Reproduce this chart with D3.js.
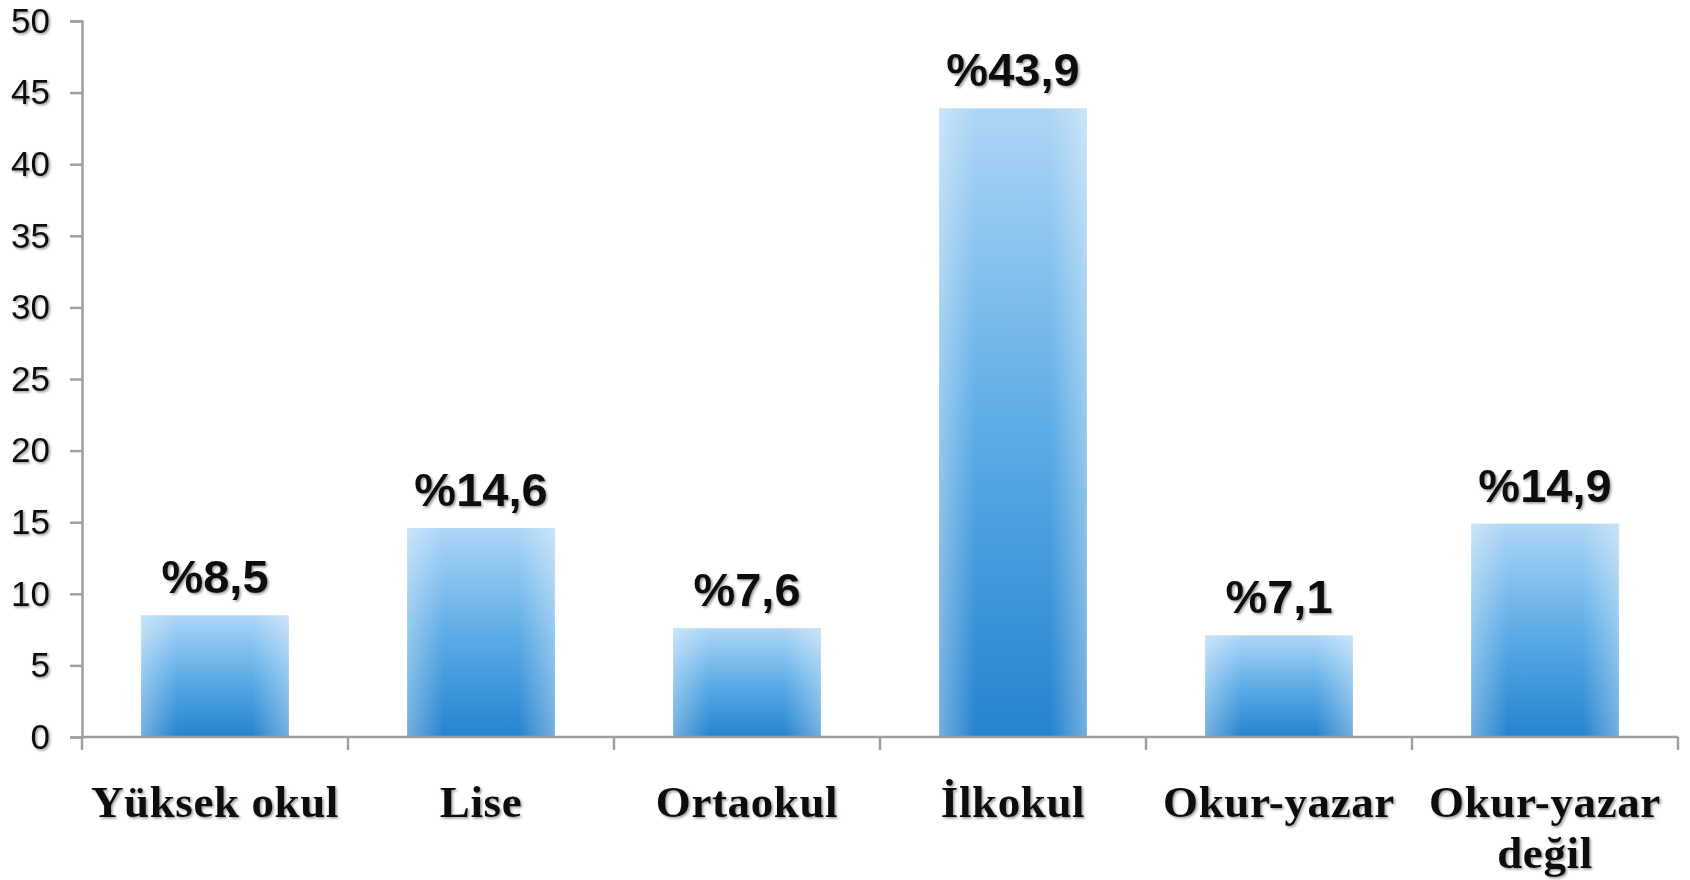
<!DOCTYPE html>
<html><head><meta charset="utf-8">
<script src="https://cdn.jsdelivr.net/npm/d3@7"></script>
<style>
html,body{margin:0;padding:0;background:#fff;}
svg{display:block;}
</style></head>
<body>
<svg id="chart" width="1690" height="880"></svg>
<script>
const categories = ["Yüksek okul", "Lise", "Ortaokul", "İlkokul", "Okur-yazar", "Okur-yazar değil"];
const categoryLines = [["Yüksek okul"], ["Lise"], ["Ortaokul"], ["İlkokul"], ["Okur-yazar"], ["Okur-yazar", "değil"]];
const values = [8.5, 14.6, 7.6, 43.9, 7.1, 14.9];
const valueLabels = ["%8,5", "%14,6", "%7,6", "%43,9", "%7,1", "%14,9"];
const yTicks = [0, 5, 10, 15, 20, 25, 30, 35, 40, 45, 50];

const svg = d3.select("#chart");
const mLeft = 82, mRight = 1678, mTop = 21, mBottom = 737;

const y = d3.scaleLinear().domain([0, 50]).range([mBottom, mTop]);
const x = d3.scaleBand().domain(categories).range([mLeft, mRight]).paddingInner(0.445).paddingOuter(0.2225);
const xb = d3.scaleBand().domain(categories).range([mLeft, mRight]).padding(0);

const defs = svg.append("defs");
const lg = defs.append("linearGradient").attr("id", "vgrad").attr("x1", 0).attr("y1", 0).attr("x2", 0).attr("y2", 1);
lg.append("stop").attr("offset", "0%").attr("stop-color", "#aed6f6");
lg.append("stop").attr("offset", "50%").attr("stop-color", "#5eade6");
lg.append("stop").attr("offset", "100%").attr("stop-color", "#2583cf");
const hg = defs.append("linearGradient").attr("id", "hgrad").attr("x1", 0).attr("y1", 0).attr("x2", 1).attr("y2", 0);
hg.append("stop").attr("offset", "0%").attr("stop-color", "#fff").attr("stop-opacity", 0.35);
hg.append("stop").attr("offset", "25%").attr("stop-color", "#fff").attr("stop-opacity", 0.0);
hg.append("stop").attr("offset", "75%").attr("stop-color", "#fff").attr("stop-opacity", 0.0);
hg.append("stop").attr("offset", "100%").attr("stop-color", "#fff").attr("stop-opacity", 0.35);
const sh = defs.append("filter").attr("id", "tshadow").attr("x", "-10%").attr("y", "-10%").attr("width", "130%").attr("height", "130%");
sh.append("feDropShadow").attr("dx", 1.5).attr("dy", 1.5).attr("stdDeviation", 0.8).attr("flood-color", "#555").attr("flood-opacity", 0.6);

// bars
const bars = svg.append("g");
bars.selectAll("rect.b").data(values).join("rect").attr("class", "b")
  .attr("x", (d, i) => x(categories[i])).attr("width", x.bandwidth())
  .attr("y", d => y(d)).attr("height", d => y(0) - y(d))
  .attr("fill", "url(#vgrad)");
bars.selectAll("rect.h").data(values).join("rect").attr("class", "h")
  .attr("x", (d, i) => x(categories[i])).attr("width", x.bandwidth())
  .attr("y", d => y(d)).attr("height", d => y(0) - y(d))
  .attr("fill", "url(#hgrad)");

// y axis
const yAxis = svg.append("g").attr("transform", `translate(${mLeft},0)`)
  .call(d3.axisLeft(y).tickValues(yTicks).tickSize(12).tickPadding(20).tickFormat(d3.format("d")));
yAxis.select(".domain").attr("stroke", "#a0a0a0").attr("stroke-width", 2.5);
yAxis.selectAll(".tick line").attr("stroke", "#a0a0a0").attr("stroke-width", 2.5);
yAxis.selectAll(".tick text").attr("font-family", "'Liberation Sans', Arial, sans-serif")
  .attr("font-size", 35).attr("fill", "#111").attr("filter", "url(#tshadow)");

// x axis
const xg = svg.append("g");
xg.append("line").attr("x1", mLeft).attr("x2", mRight).attr("y1", y(0)).attr("y2", y(0))
  .attr("stroke", "#a0a0a0").attr("stroke-width", 2.5);
const bounds = categories.map(c => xb(c)).concat([xb(categories[categories.length - 1]) + xb.bandwidth()]);
xg.selectAll("line.t").data(bounds).join("line").attr("class", "t")
  .attr("x1", d => d).attr("x2", d => d).attr("y1", y(0)).attr("y2", y(0) + 13)
  .attr("stroke", "#a0a0a0").attr("stroke-width", 2.5);

// category labels
const cl = svg.append("g").attr("font-family", "'Liberation Serif', 'Times New Roman', serif")
  .attr("font-weight", "bold").attr("font-size", 45).attr("letter-spacing", 0.6).attr("fill", "#111").attr("text-anchor", "middle");
categories.forEach((c, i) => {
  const t = cl.append("text").attr("x", x(c) + x.bandwidth() / 2).attr("y", 817).attr("filter", "url(#tshadow)");
  categoryLines[i].forEach((ln, j) => {
    t.append("tspan").attr("x", x(c) + x.bandwidth() / 2).attr("dy", j === 0 ? 0 : 51).text(ln);
  });
});

// value labels
svg.append("g").selectAll("text").data(values).join("text")
  .attr("x", (d, i) => x(categories[i]) + x.bandwidth() / 2)
  .attr("y", d => y(d) - 22)
  .attr("text-anchor", "middle")
  .attr("font-family", "'Liberation Sans', Arial, sans-serif")
  .attr("font-weight", "bold").attr("font-size", 47).attr("fill", "#111")
  .attr("filter", "url(#tshadow)")
  .text((d, i) => valueLabels[i]);
</script>
</body></html>
